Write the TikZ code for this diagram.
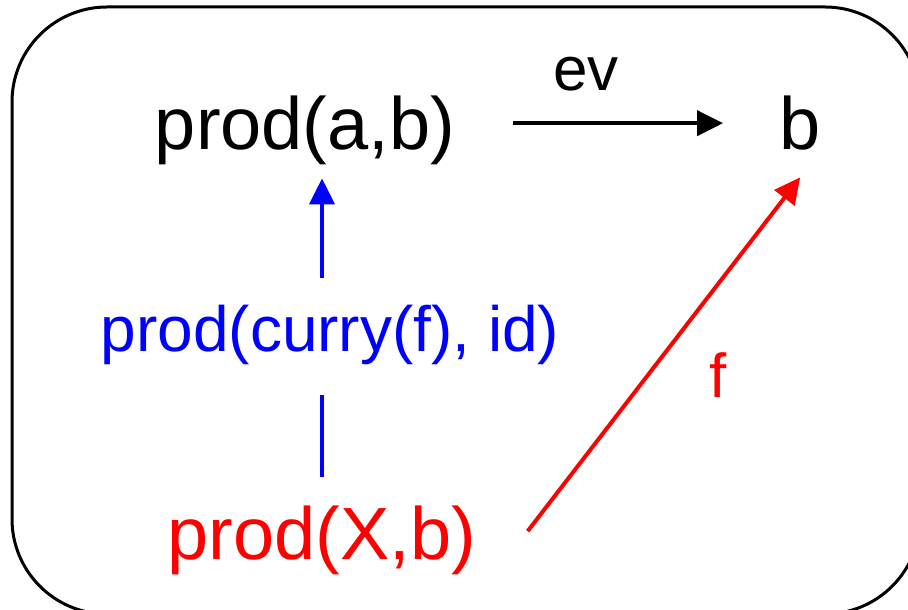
\documentclass[tikz,border=0pt]{standalone}
\usepackage{fontspec}
\setmainfont{Liberation Sans}
\usetikzlibrary{arrows.meta, positioning}
\tikzset{obj/.style={inner sep=0pt,text depth=0pt,anchor=base,font=\fontsize{37}{40}\selectfont},morph/.style={inner sep=0pt,text depth=0pt,font=\fontsize{31}{34}\selectfont},line/.style={line width=2pt,-{Triangle[length=13pt,width=12.5pt]}}}

\begin{document}
\begin{tikzpicture}[x=0.5pt,y=0.5pt]
\useasboundingbox (0,0) rectangle (908,609);
\draw[line width=1.5pt,rounded corners=47.5pt] (12,-5) rectangle (920,602);
\node[obj] (pab) at (305,459) {prod(a,b)};
\node[obj] (b) at (800,459) {b};
\node[obj,red] (pxb) at (322,49) {prod(X,b)};
\node[morph,blue,anchor=base,font=\fontsize{32}{35}\selectfont] (cur) at (330,257) {prod(curry(f), id)};
\draw[line,shorten <=28.5pt,shorten >=28pt] (pab.east) -- node[morph,pos=0.404,above=15.5pt]{ev} (b.west);
\draw[line,blue,-,shorten <=14.5pt,shorten >=21.5pt] (pxb.north) -- (pxb.north |- cur.south);
\draw[line,blue,shorten <=13.5pt,shorten >=14pt] (pxb.north |- cur.north) -- (pxb.north |- pab.south);
\draw[line,red,shorten >=17pt] ([shift={(51,2)}]pxb.east) -- node[morph,pos=0.41,right=30pt]{f} (b.south east);
\end{tikzpicture}
\end{document}
